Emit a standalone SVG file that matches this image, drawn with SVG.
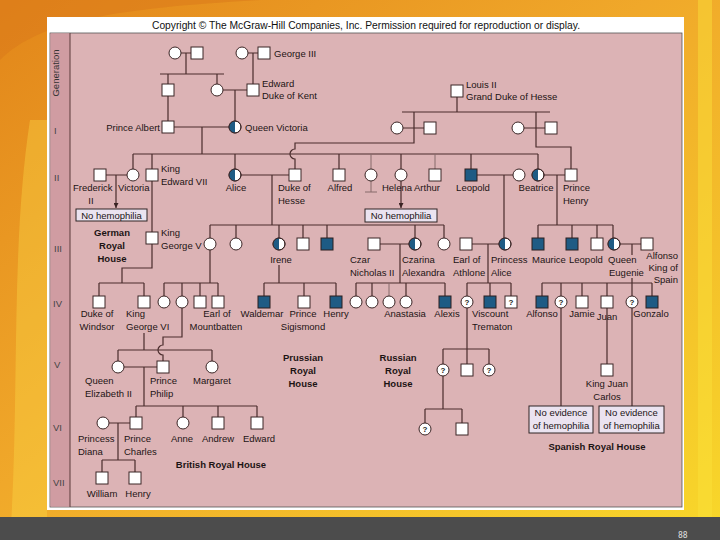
<svg xmlns="http://www.w3.org/2000/svg" width="720" height="540" viewBox="0 0 720 540">
<style>
.t{font-family:"Liberation Sans",Arial,Helvetica,sans-serif;font-size:9.5px;fill:#1c1414}
.c{text-anchor:middle}
.e{text-anchor:end}
.b{font-weight:bold}
.q{font-family:"Liberation Sans",Arial,sans-serif;font-size:8px;font-weight:bold;fill:#222;text-anchor:middle}
.m{fill:#fff;stroke:#3b2626;stroke-width:1}
.a{fill:#1e5b84;stroke:#2b1f1f;stroke-width:1}
.h{fill:#1e5b84}
.o{fill:none;stroke:#3b2626;stroke-width:1}
.ln{fill:none;stroke:#4a2c2c;stroke-width:1.2}
.lg{fill:none;stroke:#866a6a;stroke-width:1}
.bx{fill:#ebe3f0;stroke:#2e2424;stroke-width:1}
</style>
<defs>
<linearGradient id="bg" x1="0" y1="0" x2="1" y2="1">
<stop offset="0" stop-color="#e2861a"/>
<stop offset="0.45" stop-color="#f0a82a"/>
<stop offset="1" stop-color="#f8d82a"/>
</linearGradient>
<marker id="arr" viewBox="0 0 6 6" refX="6" refY="3" markerWidth="5" markerHeight="5" markerUnits="userSpaceOnUse" orient="auto">
<path d="M0,0 L6,3 L0,6 Z" fill="#3a2424"/>
</marker>
</defs>

<!-- background -->
<rect x="0" y="0" width="720" height="540" fill="url(#bg)"/>
<path d="M0,60 C40,20 120,8 260,0 L0,0 Z" fill="#d9781a" opacity="0.5"/>
<path d="M10,540 C20,400 10,250 30,120 L47,120 L47,540 Z" fill="#fbe04a" opacity="0.35"/>
<rect x="698" y="0" width="14" height="517" fill="#fbe23a" opacity="0.45"/>
<rect x="0" y="517" width="720" height="23" fill="#4c4c4c"/>
<text x="678" y="538" font-family="DejaVu Sans Mono,monospace" font-size="8" fill="#e0e0e0">88</text>

<!-- panel -->
<rect x="47" y="17" width="637" height="493" fill="#ffffff"/>
<rect x="50" y="33" width="632" height="474" fill="#dcb3b5" stroke="#555" stroke-width="0.8"/>
<rect x="50.4" y="33.4" width="19.6" height="473.2" fill="#d09ca2"/>
<line x1="70" y1="33" x2="70" y2="507" stroke="#5a3a3a" stroke-width="1"/>
<text class="t" x="366" y="29" text-anchor="middle" textLength="428" lengthAdjust="spacingAndGlyphs" style="font-size:10px;fill:#111">Copyright © The McGraw-Hill Companies, Inc. Permission required for reproduction or display.</text>

<g id="generations">
<text class="t c" x="59" y="73" transform="rotate(-90 59 73)" style="fill:#333">Generation</text>
<text class="t" x="54" y="134" style="fill:#444">I</text>
<text class="t" x="54" y="181" style="fill:#444">II</text>
<text class="t" x="54" y="252" style="fill:#444">III</text>
<text class="t" x="53" y="307" style="fill:#444">IV</text>
<text class="t" x="54" y="368" style="fill:#444">V</text>
<text class="t" x="53" y="431" style="fill:#444">VI</text>
<text class="t" x="53" y="486" style="fill:#444">VII</text>
</g>

<g id="connectors">
<path class="ln" d="M181,53 H191 M186,53 V74 M160,74 H224 M168,74 V84 M217,74 V84"/>
<path class="ln" d="M248,53 H258 M253,53 V84 M223,90 H247 M235,90 V121 M168,96 V121"/>
<path class="ln" d="M174,127 H229 M202,127 V154 M133,154 H538"/>
<path class="ln" d="M133,154 V169 M152,154 V169 M235,154 V169 M339,154 V169 M401,154 V169 M471,154 V169 M538,154 V169"/>
<path class="lg" d="M371,154 V169 M435,154 V169"/>
<path class="ln" d="M457,97 V112 M402,112 H550 M403,128 H424 M524,128 H545"/>
<path class="ln" d="M414,112 V143 H295 V149 A5,5 0 0 0 295,159 V169"/>
<path class="ln" d="M536,112 V147 H571 V169"/>
<path class="ln" d="M106,175 H127 M116,175 V208" marker-end="url(#arr)"/>
<path class="ln" d="M401,181 V208" marker-end="url(#arr)"/>
<path class="lg" d="M371,181 V192 M365,192 H377"/>
<path class="ln" d="M241,175 H289 M272,175 V225 M477,175 H513 M504,175 V238 M544,175 H565 M557,175 V225"/>
<path class="ln" d="M152,181 V232"/>
<path class="ln" d="M210,225 H444 M210,225 V238 M236,225 V238 M279,225 V238 M303,225 V238 M327,225 V238 M415,225 V238 M444,225 V238"/>
<path class="ln" d="M538,225 H613 M538,225 V238 M572,225 V238 M597,225 V238 M613,225 V238"/>
<path class="ln" d="M152,244 V268 H122 V283 M99,283 H144 M99,283 V296 M144,283 V296"/>
<path class="ln" d="M210,250 V283 M164,283 H218 M164,283 V296 M182,283 V296 M200,283 V296 M218,283 V296"/>
<path class="ln" d="M279,265 V283 M264,283 H336 M264,283 V296 M304,283 V296 M336,283 V296"/>
<path class="ln" d="M380,244 H409 M400,244 V283 M356,283 H445 M356,283 V296 M372,283 V296 M406,283 V296 M445,283 V296"/>
<path class="lg" d="M389,283 V296"/>
<path class="ln" d="M472,244 H499 M488,244 V283 M467,283 H511 M467,283 V296 M490,283 V296 M511,283 V296"/>
<path class="ln" d="M620,244 H641 M632,244 V255 M632,278 V296 M542,283 H652 M542,283 V296 M561,283 V296 M582,283 V296 M607,283 V296 M652,283 V296"/>
<path class="ln" d="M182,308 V337 H163 V345 A5,5 0 0 0 163,355 V361"/>
<path class="ln" d="M144,333 V350 M118,350 H212 M118,350 V361 M212,350 V361"/>
<path class="ln" d="M124,367 H157 M144,367 V406 M136,406 H257 M136,406 V417 M183,406 V417 M218,406 V417 M257,406 V417"/>
<path class="ln" d="M109,423 H130 M118,423 V460 M102,460 H135 M102,460 V472 M135,460 V472"/>
<path class="ln" d="M467,308 V349 M443,349 H489 M443,349 V364 M467,349 V364 M489,349 V364"/>
<path class="ln" d="M443,376 V409 M425,409 H462 M425,409 V423 M462,409 V423"/>
<path class="ln" d="M607,308 V364 M561,308 V406 M632,308 V406"/>
</g>

<!-- Generation 0 -->
<g id="n-gm1"><circle class="m" cx="175" cy="53" r="6"/></g>
<g id="n-gf1"><rect class="m" x="191" y="47" width="12" height="12"/></g>
<g id="n-gm2"><circle class="m" cx="242" cy="53" r="6"/></g>
<g id="n-george3"><rect class="m" x="258" y="47" width="12" height="12"/><text class="t" x="274" y="57">George III</text></g>
<g id="n-s1"><rect class="m" x="162" y="84" width="12" height="12"/></g>
<g id="n-c1"><circle class="m" cx="217" cy="90" r="6"/></g>
<g id="n-edward-kent"><rect class="m" x="247" y="84" width="12" height="12"/><text class="t" x="262" y="87">Edward</text><text class="t" x="262" y="99">Duke of Kent</text></g>
<g id="n-louis"><rect class="m" x="451" y="85" width="12" height="12"/><text class="t" x="466" y="88">Louis II</text><text class="t" x="466" y="100">Grand Duke of Hesse</text></g>

<!-- Generation I -->
<g id="n-albert"><rect class="m" x="162" y="121" width="12" height="12"/><text class="t e" x="160" y="131">Prince Albert</text></g>
<g id="n-queen-victoria"><circle class="m" cx="235" cy="127" r="6"/><path class="h" d="M235,121 A6,6 0 0 0 235,133 Z"/><circle class="o" cx="235" cy="127" r="6"/><text class="t" x="245" y="131">Queen Victoria</text></g>
<g id="n-h1c"><circle class="m" cx="397" cy="128" r="6"/></g>
<g id="n-h1s"><rect class="m" x="424" y="122" width="12" height="12"/></g>
<g id="n-h2c"><circle class="m" cx="518" cy="128" r="6"/></g>
<g id="n-h2s"><rect class="m" x="545" y="122" width="12" height="12"/></g>

<!-- Generation II -->
<g id="n-frederick"><rect class="m" x="94" y="169" width="12" height="12"/><text class="t" x="73" y="191">Frederick</text><text class="t c" x="91" y="204">II</text></g>
<g id="n-victoria"><circle class="m" cx="133" cy="175" r="6"/><text class="t" x="118" y="191">Victoria</text></g>
<g id="n-edward7"><rect class="m" x="146" y="169" width="12" height="12"/><text class="t" x="161" y="172">King</text><text class="t" x="161" y="185">Edward VII</text></g>
<g id="n-alice"><circle class="m" cx="235" cy="175" r="6"/><path class="h" d="M235,169 A6,6 0 0 0 235,181 Z"/><circle class="o" cx="235" cy="175" r="6"/><text class="t c" x="236" y="191">Alice</text></g>
<g id="n-hesse"><rect class="m" x="289" y="169" width="12" height="12"/><text class="t" x="278" y="191">Duke of</text><text class="t" x="278" y="204">Hesse</text></g>
<g id="n-alfred"><rect class="m" x="333" y="169" width="12" height="12"/><text class="t c" x="340" y="191">Alfred</text></g>
<g id="n-g2c"><circle class="m" cx="371" cy="175" r="6"/></g>
<g id="n-helena"><circle class="m" cx="401" cy="175" r="6"/><text class="t c" x="397" y="191">Helena</text></g>
<g id="n-arthur"><rect class="m" x="429" y="169" width="12" height="12"/><text class="t" x="414" y="191">Arthur</text></g>
<g id="n-leopold"><rect class="a" x="465" y="169" width="12" height="12"/><text class="t c" x="473" y="191">Leopold</text></g>
<g id="n-leopold-wife"><circle class="m" cx="519" cy="175" r="6"/></g>
<g id="n-beatrice"><circle class="m" cx="538" cy="175" r="6"/><path class="h" d="M538,169 A6,6 0 0 0 538,181 Z"/><circle class="o" cx="538" cy="175" r="6"/><text class="t c" x="536" y="191">Beatrice</text></g>
<g id="n-prince-henry"><rect class="m" x="565" y="169" width="12" height="12"/><text class="t" x="563" y="191">Prince</text><text class="t" x="563" y="204">Henry</text></g>

<g id="box-german"><rect class="bx" x="76" y="209" width="71" height="12"/><text class="t c" x="111.5" y="219">No hemophilia</text></g>
<g id="box-helena"><rect class="bx" x="365" y="209" width="72" height="13"/><text class="t c" x="401" y="219">No hemophilia</text></g>
<g id="lbl-german"><text class="t b c" x="112" y="236">German</text><text class="t b c" x="112" y="249">Royal</text><text class="t b c" x="112" y="262">House</text></g>

<!-- Generation III -->
<g id="n-george5"><rect class="m" x="146" y="232" width="12" height="12"/><text class="t" x="161" y="236">King</text><text class="t" x="161" y="249">George V</text></g>
<g id="n-victoria-hesse"><circle class="m" cx="210" cy="244" r="6"/></g>
<g id="n-g3c2"><circle class="m" cx="236" cy="244" r="6"/></g>
<g id="n-irene"><circle class="m" cx="279" cy="244" r="6"/><path class="h" d="M279,238 A6,6 0 0 0 279,250 Z"/><circle class="o" cx="279" cy="244" r="6"/><text class="t c" x="281" y="263">Irene</text></g>
<g id="n-g3s1"><rect class="m" x="297" y="238" width="12" height="12"/></g>
<g id="n-g3s2"><rect class="a" x="321" y="238" width="12" height="12"/></g>
<g id="n-nicholas"><rect class="m" x="368" y="238" width="12" height="12"/><text class="t" x="350" y="263">Czar</text><text class="t" x="350" y="276">Nicholas II</text></g>
<g id="n-alexandra"><circle class="m" cx="415" cy="244" r="6"/><path class="h" d="M415,238 A6,6 0 0 0 415,250 Z"/><circle class="o" cx="415" cy="244" r="6"/><text class="t" x="402" y="263">Czarina</text><text class="t" x="402" y="276">Alexandra</text></g>
<g id="n-g3c3"><circle class="m" cx="444" cy="244" r="6"/></g>
<g id="n-athlone"><rect class="m" x="460" y="238" width="12" height="12"/><text class="t" x="453" y="263">Earl of</text><text class="t" x="453" y="276">Athlone</text></g>
<g id="n-princess-alice"><circle class="m" cx="505" cy="244" r="6"/><path class="h" d="M505,238 A6,6 0 0 0 505,250 Z"/><circle class="o" cx="505" cy="244" r="6"/><text class="t" x="491" y="263">Princess</text><text class="t" x="491" y="276">Alice</text></g>
<g id="n-maurice"><rect class="a" x="532" y="238" width="12" height="12"/><text class="t" x="532" y="263">Maurice</text></g>
<g id="n-leopold2"><rect class="a" x="566" y="238" width="12" height="12"/><text class="t" x="569" y="263">Leopold</text></g>
<g id="n-g3s3"><rect class="m" x="591" y="238" width="12" height="12"/></g>
<g id="n-eugenie"><circle class="m" cx="614" cy="244" r="6"/><path class="h" d="M614,238 A6,6 0 0 0 614,250 Z"/><circle class="o" cx="614" cy="244" r="6"/><text class="t" x="608" y="263">Queen</text><text class="t" x="609" y="276">Eugenie</text></g>
<g id="n-alfonso13"><rect class="m" x="641" y="238" width="12" height="12"/><text class="t e" x="678" y="259">Alfonso</text><text class="t e" x="678" y="271">King of</text><text class="t e" x="678" y="283">Spain</text></g>

<!-- Generation IV -->
<g id="n-windsor"><rect class="m" x="93" y="296" width="12" height="12"/><text class="t c" x="97" y="317">Duke of</text><text class="t c" x="97" y="330">Windsor</text></g>
<g id="n-george6"><rect class="m" x="138" y="296" width="12" height="12"/><text class="t" x="126" y="317">King</text><text class="t" x="126" y="330">George VI</text></g>
<g id="n-g4c1"><circle class="m" cx="164" cy="302" r="6"/></g>
<g id="n-alice-battenberg"><circle class="m" cx="182" cy="302" r="6"/></g>
<g id="n-g4s1"><rect class="m" x="194" y="296" width="12" height="12"/></g>
<g id="n-mountbatten"><rect class="m" x="212" y="296" width="12" height="12"/><text class="t c" x="217" y="317">Earl of</text><text class="t c" x="216" y="330">Mountbatten</text></g>
<g id="n-waldemar"><rect class="a" x="258" y="296" width="12" height="12"/><text class="t c" x="262" y="317">Waldemar</text></g>
<g id="n-sigismond"><rect class="m" x="298" y="296" width="12" height="12"/><text class="t c" x="303" y="317">Prince</text><text class="t c" x="303" y="330">Sigismond</text></g>
<g id="n-henry-prussia"><rect class="a" x="330" y="296" width="12" height="12"/><text class="t c" x="336" y="317">Henry</text></g>
<g id="n-r1"><circle class="m" cx="356" cy="302" r="6"/></g>
<g id="n-r2"><circle class="m" cx="372" cy="302" r="6"/></g>
<g id="n-r3"><circle class="m" cx="389" cy="302" r="6"/></g>
<g id="n-anastasia"><circle class="m" cx="406" cy="302" r="6"/><text class="t c" x="405" y="317">Anastasia</text></g>
<g id="n-alexis"><rect class="a" x="439" y="296" width="12" height="12"/><text class="t c" x="447" y="317">Alexis</text></g>
<g id="n-a1"><circle class="m" cx="467" cy="302" r="6"/><text class="q" x="467" y="305">?</text></g>
<g id="n-trematon"><rect class="a" x="484" y="296" width="12" height="12"/><text class="t" x="472" y="317">Viscount</text><text class="t" x="472" y="330">Trematon</text></g>
<g id="n-a3"><rect class="m" x="505" y="296" width="12" height="12"/><text class="q" x="511" y="305">?</text></g>
<g id="n-alfonso"><rect class="a" x="536" y="296" width="12" height="12"/><text class="t c" x="542" y="317">Alfonso</text></g>
<g id="n-sp1"><circle class="m" cx="561" cy="302" r="6"/><text class="q" x="561" y="305">?</text></g>
<g id="n-jamie"><rect class="m" x="576" y="296" width="12" height="12"/><text class="t c" x="582" y="317">Jamie</text></g>
<g id="n-juan"><rect class="m" x="601" y="296" width="12" height="12"/><text class="t c" x="607" y="320">Juan</text></g>
<g id="n-sp2"><circle class="m" cx="632" cy="302" r="6"/><text class="q" x="632" y="305">?</text></g>
<g id="n-gonzalo"><rect class="a" x="646" y="296" width="12" height="12"/><text class="t c" x="651" y="317">Gonzalo</text></g>

<!-- Generation V -->
<g id="n-elizabeth"><circle class="m" cx="118" cy="367" r="6"/><text class="t" x="85" y="384">Queen</text><text class="t" x="85" y="397">Elizabeth II</text></g>
<g id="n-philip"><rect class="m" x="157" y="361" width="12" height="12"/><text class="t" x="150" y="384">Prince</text><text class="t" x="150" y="397">Philip</text></g>
<g id="n-margaret"><circle class="m" cx="212" cy="367" r="6"/><text class="t c" x="212" y="384">Margaret</text></g>
<g id="lbl-prussian"><text class="t b c" x="303" y="361">Prussian</text><text class="t b c" x="303" y="374">Royal</text><text class="t b c" x="303" y="387">House</text></g>
<g id="lbl-russian"><text class="t b c" x="398" y="361">Russian</text><text class="t b c" x="398" y="374">Royal</text><text class="t b c" x="398" y="387">House</text></g>
<g id="n-r5c1"><circle class="m" cx="443" cy="370" r="6"/><text class="q" x="443" y="373">?</text></g>
<g id="n-r5s"><rect class="m" x="461" y="364" width="12" height="12"/></g>
<g id="n-r5c2"><circle class="m" cx="489" cy="370" r="6"/><text class="q" x="489" y="373">?</text></g>
<g id="n-juan-carlos"><rect class="m" x="601" y="364" width="12" height="12"/><text class="t c" x="607" y="387">King Juan</text><text class="t c" x="607" y="400">Carlos</text></g>

<g id="box-spain1"><rect class="bx" x="529" y="406" width="64" height="27"/><text class="t c" x="561" y="416">No evidence</text><text class="t c" x="561" y="429">of hemophilia</text></g>
<g id="box-spain2"><rect class="bx" x="599" y="406" width="65" height="27"/><text class="t c" x="631.5" y="416">No evidence</text><text class="t c" x="631.5" y="429">of hemophilia</text></g>
<g id="lbl-spanish"><text class="t b c" x="597" y="450">Spanish Royal House</text></g>

<!-- Generation VI -->
<g id="n-diana"><circle class="m" cx="103" cy="423" r="6"/><text class="t" x="78" y="442">Princess</text><text class="t" x="78" y="455">Diana</text></g>
<g id="n-charles"><rect class="m" x="130" y="417" width="12" height="12"/><text class="t" x="124" y="442">Prince</text><text class="t" x="124" y="455">Charles</text></g>
<g id="n-anne"><circle class="m" cx="183" cy="423" r="6"/><text class="t c" x="182" y="442">Anne</text></g>
<g id="n-andrew"><rect class="m" x="212" y="417" width="12" height="12"/><text class="t c" x="218" y="442">Andrew</text></g>
<g id="n-edward"><rect class="m" x="251" y="417" width="12" height="12"/><text class="t c" x="259" y="442">Edward</text></g>
<g id="lbl-british"><text class="t b c" x="221" y="468">British Royal House</text></g>
<g id="n-r6c"><circle class="m" cx="425" cy="429" r="6"/><text class="q" x="425" y="432">?</text></g>
<g id="n-r6s"><rect class="m" x="456" y="423" width="12" height="12"/></g>

<!-- Generation VII -->
<g id="n-william"><rect class="m" x="96" y="472" width="12" height="12"/><text class="t c" x="102" y="497">William</text></g>
<g id="n-harry"><rect class="m" x="129" y="472" width="12" height="12"/><text class="t c" x="138" y="497">Henry</text></g>
</svg>
